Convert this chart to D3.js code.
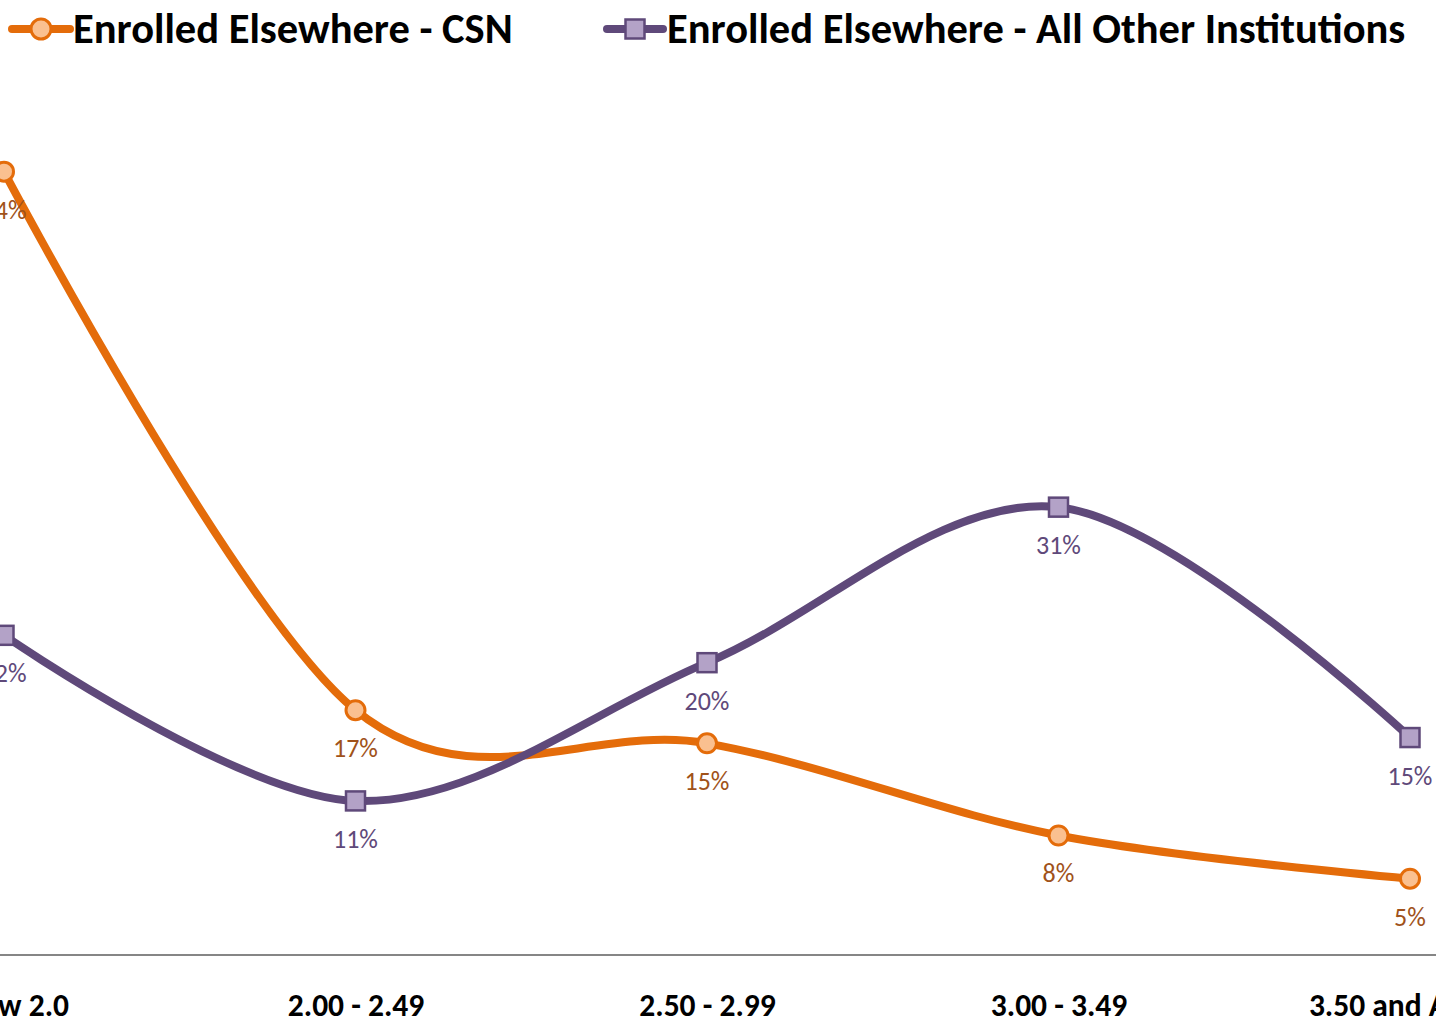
<!DOCTYPE html>
<html><head><meta charset="utf-8">
<script src="https://cdn.jsdelivr.net/npm/d3@7"></script>
<style>
html,body{margin:0;padding:0;background:#fff;overflow:hidden}
text{font-family:Carlito,Calibri,Lato,sans-serif}
</style></head><body>
<svg id="c" width="1436" height="1021"></svg>
<script>
const categories = ["Below 2.0", "2.00 - 2.49", "2.50 - 2.99", "3.00 - 3.49", "3.50 and Above"];
const csnValues = [54.4, 17.0, 14.7, 8.3, 5.3];
const otherValues = [22.2, 10.7, 20.3, 31.1, 15.1];
const seriesNames = ["Enrolled Elsewhere - CSN", "Enrolled Elsewhere - All Other Institutions"];

const svg = d3.select("#c");
const x = d3.scalePoint().domain(categories).range([4, 1410]);
const y = d3.scaleLinear().domain([0, 60]).range([955, 91]);

const series = [
  {name: seriesNames[0], values: csnValues, line: "#E46C0A", fill: "#FAC090", label: "#A0521A", shape: "circle"},
  {name: seriesNames[1], values: otherValues, line: "#5F497A", fill: "#B3A2C7", label: "#5F497A", shape: "square"}
];

// x axis
const xAxis = d3.axisBottom(x).tickSize(0).tickPadding(0);
const ax = svg.append("g").attr("transform", "translate(0,955)").call(xAxis);
ax.select(".domain").remove();
svg.append("line").attr("x1", -10).attr("x2", 1446).attr("y1", 955).attr("y2", 955)
  .attr("stroke", "#868686").attr("stroke-width", 2);
ax.selectAll(".tick text").attr("y", 61).attr("dy", 0)
  .style("font-size", "31.5px").style("font-weight", "bold").attr("fill", "#000");

const lineGen = d3.line().x((d, i) => x(categories[i])).y(d => y(d)).curve(d3.curveCardinal.tension(0));

function marker(g, s, cx, cy, size) {
  if (s.shape === "circle") {
    g.append("circle").attr("cx", cx).attr("cy", cy).attr("r", size / 2)
      .attr("fill", s.fill).attr("stroke", s.line).attr("stroke-width", 3);
  } else {
    g.append("rect").attr("x", cx - size / 2).attr("y", cy - size / 2).attr("width", size).attr("height", size)
      .attr("fill", s.fill).attr("stroke", s.line).attr("stroke-width", 2.5);
  }
}

series.forEach(s => {
  svg.append("path").datum(s.values).attr("d", lineGen).attr("fill", "none")
    .attr("stroke", s.line).attr("stroke-width", 8).attr("stroke-linecap", "round");
  const g = svg.append("g");
  s.values.forEach((v, i) => {
    marker(g, s, x(categories[i]), y(v), s.shape === "circle" ? 19 : 19);
    g.append("text").attr("x", x(categories[i])).attr("y", y(v) + 47)
      .attr("text-anchor", "middle").attr("fill", s.label).style("font-size", "26px")
      .text(Math.round(v) + "%");
  });
});

// legend
const legendPos = [{x0: 12, x1: 70, tx: 73}, {x0: 607, x1: 663, tx: 667}];
series.forEach((s, i) => {
  const p = legendPos[i];
  const g = svg.append("g");
  g.append("line").attr("x1", p.x0).attr("x2", p.x1).attr("y1", 29).attr("y2", 29)
    .attr("stroke", s.line).attr("stroke-width", 8).attr("stroke-linecap", "round");
  marker(g, s, (p.x0 + p.x1) / 2, 29, s.shape === "circle" ? 20 : 19);
  g.append("text").attr("x", p.tx).attr("y", 43).style("font-size", "42.5px").style("font-weight", "bold")
    .attr("fill", "#000").text(s.name);
});
</script></body></html>
